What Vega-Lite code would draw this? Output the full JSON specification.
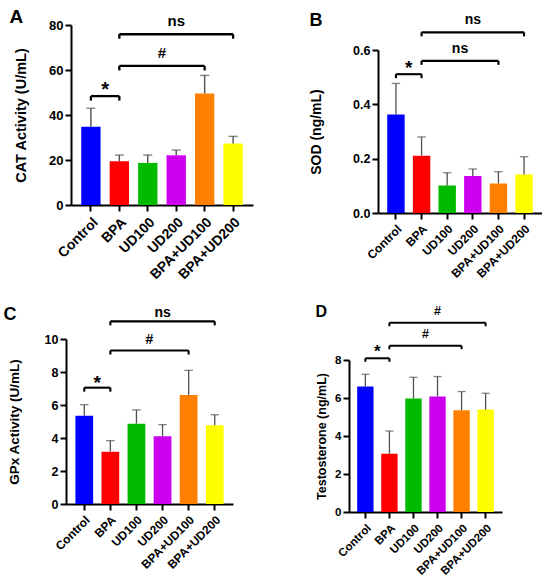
{
  "$schema": "https://vega.github.io/schema/vega-lite/v6.json",
  "padding": 0,
  "background": "white",
  "datasets": {
    "bars": [
      {"panel": "A", "group": "Control", "mean": 34.8, "upper": 43.0},
      {"panel": "A", "group": "BPA", "mean": 19.4, "upper": 22.2},
      {"panel": "A", "group": "UD100", "mean": 18.7, "upper": 22.2},
      {"panel": "A", "group": "UD200", "mean": 22.1, "upper": 24.4},
      {"panel": "A", "group": "BPA+UD100", "mean": 49.6, "upper": 57.6},
      {"panel": "A", "group": "BPA+UD200", "mean": 27.3, "upper": 30.5},
      {"panel": "B", "group": "Control", "mean": 0.363, "upper": 0.477},
      {"panel": "B", "group": "BPA", "mean": 0.211, "upper": 0.280},
      {"panel": "B", "group": "UD100", "mean": 0.101, "upper": 0.148},
      {"panel": "B", "group": "UD200", "mean": 0.136, "upper": 0.162},
      {"panel": "B", "group": "BPA+UD100", "mean": 0.109, "upper": 0.152},
      {"panel": "B", "group": "BPA+UD200", "mean": 0.142, "upper": 0.207},
      {"panel": "C", "group": "Control", "mean": 5.35, "upper": 6.02},
      {"panel": "C", "group": "BPA", "mean": 3.17, "upper": 3.84},
      {"panel": "C", "group": "UD100", "mean": 4.87, "upper": 5.70},
      {"panel": "C", "group": "UD200", "mean": 4.10, "upper": 4.81},
      {"panel": "C", "group": "BPA+UD100", "mean": 6.61, "upper": 8.10},
      {"panel": "C", "group": "BPA+UD200", "mean": 4.77, "upper": 5.41},
      {"panel": "D", "group": "Control", "mean": 6.60, "upper": 7.25},
      {"panel": "D", "group": "BPA", "mean": 3.06, "upper": 4.26},
      {"panel": "D", "group": "UD100", "mean": 5.97, "upper": 7.09},
      {"panel": "D", "group": "UD200", "mean": 6.08, "upper": 7.13},
      {"panel": "D", "group": "BPA+UD100", "mean": 5.36, "upper": 6.34},
      {"panel": "D", "group": "BPA+UD200", "mean": 5.39, "upper": 6.25}
    ],
    "brackets": [
      {"panel": "A", "from": "Control", "to": "BPA", "y": 48.4, "label": "*"},
      {"panel": "A", "from": "BPA", "to": "BPA+UD100", "y": 61.8, "label": "#"},
      {"panel": "A", "from": "BPA", "to": "BPA+UD200", "y": 75.9, "label": "ns"},
      {"panel": "B", "from": "Control", "to": "BPA", "y": 0.511, "label": "*"},
      {"panel": "B", "from": "BPA", "to": "BPA+UD100", "y": 0.560, "label": "ns"},
      {"panel": "B", "from": "BPA", "to": "BPA+UD200", "y": 0.665, "label": "ns"},
      {"panel": "C", "from": "Control", "to": "BPA", "y": 7.05, "label": "*"},
      {"panel": "C", "from": "BPA", "to": "BPA+UD100", "y": 9.3, "label": "#"},
      {"panel": "C", "from": "BPA", "to": "BPA+UD200", "y": 11.07, "label": "ns"},
      {"panel": "D", "from": "Control", "to": "BPA", "y": 8.09, "label": "*"},
      {"panel": "D", "from": "BPA", "to": "BPA+UD100", "y": 8.75, "label": "#"},
      {"panel": "D", "from": "BPA", "to": "BPA+UD200", "y": 9.96, "label": "#"}
    ],
    "none": []
  },
  "vconcat": [
    {
      "hconcat": [
        {"vconcat": [
          {"width": 1, "height": 1, "data": {"name": "none"}, "mark": "point"},
          {"hconcat": [
            {"width": 1, "height": 1, "data": {"name": "none"}, "mark": "point"},
            {
              "width": 182, "height": 180,
              "title": {"text": "A", "anchor": "start", "frame": "bounds", "fontSize": 19, "offset": -13, "dx": -4},
              "layer": [
                {"data": {"name": "bars"}, "transform": [{"filter": "datum.panel == 'A'"}],
                 "mark": {"type": "bar", "width": {"band": 0.68}},
                 "encoding": {
                   "x": {"field": "group", "type": "nominal", "scale": {"domain": ["Control","BPA","UD100","UD200","BPA+UD100","BPA+UD200"], "paddingInner": 0, "paddingOuter": 0.2}, "axis": {"title": null, "labelFontSize": 14}},
                   "y": {"field": "mean", "type": "quantitative", "scale": {"domain": [0, 80], "nice": false}, "axis": {"title": "CAT Activity (U/mL)", "values": [0, 20, 40, 60, 80], "tickCount": 12, "format": "d", "labelFontSize": 13, "titleFontSize": 14.5, "titlePadding": 20}},
                   "color": {"field": "group", "type": "nominal", "scale": {"domain": ["Control","BPA","UD100","UD200","BPA+UD100","BPA+UD200"], "range": ["#0000FF","#FF0000","#00BB00","#CC00EE","#FF8000","#FFFF00"]}, "legend": null}
                 }},
                {"data": {"name": "bars"}, "transform": [{"filter": "datum.panel == 'A'"}],
                 "mark": {"type": "rule", "color": "#505050", "strokeWidth": 1.4},
                 "encoding": {"x": {"field": "group", "type": "nominal"}, "y": {"field": "mean", "type": "quantitative"}, "y2": {"field": "upper"}}},
                {"data": {"name": "bars"}, "transform": [{"filter": "datum.panel == 'A'"}],
                 "mark": {"type": "tick", "color": "#505050", "size": 9, "thickness": 1.4},
                 "encoding": {"x": {"field": "group", "type": "nominal"}, "y": {"field": "upper", "type": "quantitative"}}},
                {"data": {"name": "brackets"}, "transform": [{"filter": "datum.panel == 'A'"}],
                 "mark": {"type": "rule", "color": "black", "strokeWidth": 2.3},
                 "encoding": {"x": {"field": "from", "type": "nominal"}, "x2": {"field": "to"}, "y": {"field": "y", "type": "quantitative"}}},
                {"data": {"name": "brackets"}, "transform": [{"filter": "datum.panel == 'A'"}, {"fold": ["from", "to"], "as": ["end", "grp"]}],
                 "mark": {"type": "rule", "color": "black", "strokeWidth": 2.3, "y2Offset": 4.5},
                 "encoding": {"x": {"field": "grp", "type": "nominal"}, "y": {"field": "y", "type": "quantitative"}, "y2": {"field": "y"}}},
                {"data": {"name": "brackets"}, "transform": [{"filter": "datum.panel == 'A' && datum.label == '*'"}, {"calculate": "['Control','BPA','UD100','UD200','BPA+UD100','BPA+UD200'][(indexof(['Control','BPA','UD100','UD200','BPA+UD100','BPA+UD200'], datum.from) + indexof(['Control','BPA','UD100','UD200','BPA+UD100','BPA+UD200'], datum.to) + 1) / 2]", "as": "mid"}],
                 "mark": {"type": "text", "fontSize": 20, "baseline": "middle", "dy": -6},
                 "encoding": {"x": {"field": "mid", "type": "nominal", "bandPosition": 0}, "y": {"field": "y", "type": "quantitative"}, "text": {"field": "label"}}},
                {"data": {"name": "brackets"}, "transform": [{"filter": "datum.panel == 'A' && datum.label != '*'"}, {"calculate": "indexof(['Control','BPA','UD100','UD200','BPA+UD100','BPA+UD200'], datum.from) + indexof(['Control','BPA','UD100','UD200','BPA+UD100','BPA+UD200'], datum.to)", "as": "s"}, {"filter": "datum.s % 2 == 1"}, {"calculate": "['Control','BPA','UD100','UD200','BPA+UD100','BPA+UD200'][(datum.s + 1) / 2]", "as": "mid"}],
                 "mark": {"type": "text", "fontSize": 15, "baseline": "middle", "dy": -13},
                 "encoding": {"x": {"field": "mid", "type": "nominal", "bandPosition": 0}, "y": {"field": "y", "type": "quantitative"}, "text": {"field": "label"}}},
                {"data": {"name": "brackets"}, "transform": [{"filter": "datum.panel == 'A' && datum.label != '*'"}, {"calculate": "indexof(['Control','BPA','UD100','UD200','BPA+UD100','BPA+UD200'], datum.from) + indexof(['Control','BPA','UD100','UD200','BPA+UD100','BPA+UD200'], datum.to)", "as": "s"}, {"filter": "datum.s % 2 == 0"}, {"calculate": "['Control','BPA','UD100','UD200','BPA+UD100','BPA+UD200'][datum.s / 2]", "as": "mid"}],
                 "mark": {"type": "text", "fontSize": 15, "baseline": "middle", "dy": -13},
                 "encoding": {"x": {"field": "mid", "type": "nominal", "bandPosition": 0.5}, "y": {"field": "y", "type": "quantitative"}, "text": {"field": "label"}}}
              ]
            }
          ], "spacing": 8}
        ], "spacing": 7},
        {"vconcat": [
          {"width": 1, "height": 1, "data": {"name": "none"}, "mark": "point"},
          {"hconcat": [
            {"width": 1, "height": 1, "data": {"name": "none"}, "mark": "point"},
            {
              "width": 164, "height": 163,
              "title": {"text": "B", "anchor": "start", "frame": "bounds", "fontSize": 18, "offset": -17},
              "layer": [
                {"data": {"name": "bars"}, "transform": [{"filter": "datum.panel == 'B'"}],
                 "mark": {"type": "bar", "width": {"band": 0.68}},
                 "encoding": {
                   "x": {"field": "group", "type": "nominal", "scale": {"domain": ["Control","BPA","UD100","UD200","BPA+UD100","BPA+UD200"], "paddingInner": 0, "paddingOuter": 0.2}, "axis": {"title": null, "labelFontSize": 12}},
                   "y": {"field": "mean", "type": "quantitative", "scale": {"domain": [0, 0.6], "nice": false}, "axis": {"title": "SOD (ng/mL)", "values": [0, 0.2, 0.4, 0.6], "tickCount": 12, "format": ".1f", "labelFontSize": 12.5, "titleFontSize": 14, "titlePadding": 29}},
                   "color": {"field": "group", "type": "nominal", "scale": {"domain": ["Control","BPA","UD100","UD200","BPA+UD100","BPA+UD200"], "range": ["#0000FF","#FF0000","#00BB00","#CC00EE","#FF8000","#FFFF00"]}, "legend": null}
                 }},
                {"data": {"name": "bars"}, "transform": [{"filter": "datum.panel == 'B'"}],
                 "mark": {"type": "rule", "color": "#505050", "strokeWidth": 1.3},
                 "encoding": {"x": {"field": "group", "type": "nominal"}, "y": {"field": "mean", "type": "quantitative"}, "y2": {"field": "upper"}}},
                {"data": {"name": "bars"}, "transform": [{"filter": "datum.panel == 'B'"}],
                 "mark": {"type": "tick", "color": "#505050", "size": 8.5, "thickness": 1.3},
                 "encoding": {"x": {"field": "group", "type": "nominal"}, "y": {"field": "upper", "type": "quantitative"}}},
                {"data": {"name": "brackets"}, "transform": [{"filter": "datum.panel == 'B'"}],
                 "mark": {"type": "rule", "color": "black", "strokeWidth": 2.1},
                 "encoding": {"x": {"field": "from", "type": "nominal"}, "x2": {"field": "to"}, "y": {"field": "y", "type": "quantitative"}}},
                {"data": {"name": "brackets"}, "transform": [{"filter": "datum.panel == 'B'"}, {"fold": ["from", "to"], "as": ["end", "grp"]}],
                 "mark": {"type": "rule", "color": "black", "strokeWidth": 2.1, "y2Offset": 4},
                 "encoding": {"x": {"field": "grp", "type": "nominal"}, "y": {"field": "y", "type": "quantitative"}, "y2": {"field": "y"}}},
                {"data": {"name": "brackets"}, "transform": [{"filter": "datum.panel == 'B' && datum.label == '*'"}, {"calculate": "['Control','BPA','UD100','UD200','BPA+UD100','BPA+UD200'][(indexof(['Control','BPA','UD100','UD200','BPA+UD100','BPA+UD200'], datum.from) + indexof(['Control','BPA','UD100','UD200','BPA+UD100','BPA+UD200'], datum.to) + 1) / 2]", "as": "mid"}],
                 "mark": {"type": "text", "fontSize": 19, "baseline": "middle", "dy": -6},
                 "encoding": {"x": {"field": "mid", "type": "nominal", "bandPosition": 0}, "y": {"field": "y", "type": "quantitative"}, "text": {"field": "label"}}},
                {"data": {"name": "brackets"}, "transform": [{"filter": "datum.panel == 'B' && datum.label != '*'"}, {"calculate": "indexof(['Control','BPA','UD100','UD200','BPA+UD100','BPA+UD200'], datum.from) + indexof(['Control','BPA','UD100','UD200','BPA+UD100','BPA+UD200'], datum.to)", "as": "s"}, {"filter": "datum.s % 2 == 1"}, {"calculate": "['Control','BPA','UD100','UD200','BPA+UD100','BPA+UD200'][(datum.s + 1) / 2]", "as": "mid"}],
                 "mark": {"type": "text", "fontSize": 14, "baseline": "middle", "dy": -12},
                 "encoding": {"x": {"field": "mid", "type": "nominal", "bandPosition": 0}, "y": {"field": "y", "type": "quantitative"}, "text": {"field": "label"}}},
                {"data": {"name": "brackets"}, "transform": [{"filter": "datum.panel == 'B' && datum.label != '*'"}, {"calculate": "indexof(['Control','BPA','UD100','UD200','BPA+UD100','BPA+UD200'], datum.from) + indexof(['Control','BPA','UD100','UD200','BPA+UD100','BPA+UD200'], datum.to)", "as": "s"}, {"filter": "datum.s % 2 == 0"}, {"calculate": "['Control','BPA','UD100','UD200','BPA+UD100','BPA+UD200'][datum.s / 2]", "as": "mid"}],
                 "mark": {"type": "text", "fontSize": 14, "baseline": "middle", "dy": -12},
                 "encoding": {"x": {"field": "mid", "type": "nominal", "bandPosition": 0.5}, "y": {"field": "y", "type": "quantitative"}, "text": {"field": "label"}}}
              ]
            }
          ], "spacing": 55}
        ], "spacing": 11}
      ],
      "spacing": 0
    },
    {
      "hconcat": [
        {"vconcat": [
          {"width": 1, "height": 1, "data": {"name": "none"}, "mark": "point"},
          {"hconcat": [
            {"width": 1, "height": 1, "data": {"name": "none"}, "mark": "point"},
            {
              "width": 167, "height": 165,
              "title": {"text": "C", "anchor": "start", "frame": "bounds", "fontSize": 18, "offset": -18, "dx": -4},
              "layer": [
                {"data": {"name": "bars"}, "transform": [{"filter": "datum.panel == 'C'"}],
                 "mark": {"type": "bar", "width": {"band": 0.68}},
                 "encoding": {
                   "x": {"field": "group", "type": "nominal", "scale": {"domain": ["Control","BPA","UD100","UD200","BPA+UD100","BPA+UD200"], "paddingInner": 0, "paddingOuter": 0.2}, "axis": {"title": null, "labelFontSize": 12}},
                   "y": {"field": "mean", "type": "quantitative", "scale": {"domain": [0, 10], "nice": false}, "axis": {"title": "GPx Activity (U/mL)", "values": [0, 2, 4, 6, 8, 10], "tickCount": 12, "format": "d", "labelFontSize": 12.5, "titleFontSize": 13.5, "titlePadding": 22.5}},
                   "color": {"field": "group", "type": "nominal", "scale": {"domain": ["Control","BPA","UD100","UD200","BPA+UD100","BPA+UD200"], "range": ["#0000FF","#FF0000","#00BB00","#CC00EE","#FF8000","#FFFF00"]}, "legend": null}
                 }},
                {"data": {"name": "bars"}, "transform": [{"filter": "datum.panel == 'C'"}],
                 "mark": {"type": "rule", "color": "#505050", "strokeWidth": 1.3},
                 "encoding": {"x": {"field": "group", "type": "nominal"}, "y": {"field": "mean", "type": "quantitative"}, "y2": {"field": "upper"}}},
                {"data": {"name": "bars"}, "transform": [{"filter": "datum.panel == 'C'"}],
                 "mark": {"type": "tick", "color": "#505050", "size": 8.5, "thickness": 1.3},
                 "encoding": {"x": {"field": "group", "type": "nominal"}, "y": {"field": "upper", "type": "quantitative"}}},
                {"data": {"name": "brackets"}, "transform": [{"filter": "datum.panel == 'C'"}],
                 "mark": {"type": "rule", "color": "black", "strokeWidth": 2.1},
                 "encoding": {"x": {"field": "from", "type": "nominal"}, "x2": {"field": "to"}, "y": {"field": "y", "type": "quantitative"}}},
                {"data": {"name": "brackets"}, "transform": [{"filter": "datum.panel == 'C'"}, {"fold": ["from", "to"], "as": ["end", "grp"]}],
                 "mark": {"type": "rule", "color": "black", "strokeWidth": 2.1, "y2Offset": 4},
                 "encoding": {"x": {"field": "grp", "type": "nominal"}, "y": {"field": "y", "type": "quantitative"}, "y2": {"field": "y"}}},
                {"data": {"name": "brackets"}, "transform": [{"filter": "datum.panel == 'C' && datum.label == '*'"}, {"calculate": "['Control','BPA','UD100','UD200','BPA+UD100','BPA+UD200'][(indexof(['Control','BPA','UD100','UD200','BPA+UD100','BPA+UD200'], datum.from) + indexof(['Control','BPA','UD100','UD200','BPA+UD100','BPA+UD200'], datum.to) + 1) / 2]", "as": "mid"}],
                 "mark": {"type": "text", "fontSize": 19, "baseline": "middle", "dy": -5},
                 "encoding": {"x": {"field": "mid", "type": "nominal", "bandPosition": 0}, "y": {"field": "y", "type": "quantitative"}, "text": {"field": "label"}}},
                {"data": {"name": "brackets"}, "transform": [{"filter": "datum.panel == 'C' && datum.label != '*'"}, {"calculate": "indexof(['Control','BPA','UD100','UD200','BPA+UD100','BPA+UD200'], datum.from) + indexof(['Control','BPA','UD100','UD200','BPA+UD100','BPA+UD200'], datum.to)", "as": "s"}, {"filter": "datum.s % 2 == 1"}, {"calculate": "['Control','BPA','UD100','UD200','BPA+UD100','BPA+UD200'][(datum.s + 1) / 2]", "as": "mid"}],
                 "mark": {"type": "text", "fontSize": 14, "baseline": "middle", "dy": -11},
                 "encoding": {"x": {"field": "mid", "type": "nominal", "bandPosition": 0}, "y": {"field": "y", "type": "quantitative"}, "text": {"field": "label"}}},
                {"data": {"name": "brackets"}, "transform": [{"filter": "datum.panel == 'C' && datum.label != '*'"}, {"calculate": "indexof(['Control','BPA','UD100','UD200','BPA+UD100','BPA+UD200'], datum.from) + indexof(['Control','BPA','UD100','UD200','BPA+UD100','BPA+UD200'], datum.to)", "as": "s"}, {"filter": "datum.s % 2 == 0"}, {"calculate": "['Control','BPA','UD100','UD200','BPA+UD100','BPA+UD200'][datum.s / 2]", "as": "mid"}],
                 "mark": {"type": "text", "fontSize": 14, "baseline": "middle", "dy": -8},
                 "encoding": {"x": {"field": "mid", "type": "nominal", "bandPosition": 0.5}, "y": {"field": "y", "type": "quantitative"}, "text": {"field": "label"}}}
              ]
            }
          ], "spacing": 2}
        ], "spacing": 23},
        {"vconcat": [
          {"width": 1, "height": 1, "data": {"name": "none"}, "mark": "point"},
          {"hconcat": [
            {"width": 1, "height": 1, "data": {"name": "none"}, "mark": "point"},
            {
              "width": 153, "height": 152,
              "title": {"text": "D", "anchor": "start", "frame": "bounds", "fontSize": 16, "offset": -15},
              "layer": [
                {"data": {"name": "bars"}, "transform": [{"filter": "datum.panel == 'D'"}],
                 "mark": {"type": "bar", "width": {"band": 0.68}},
                 "encoding": {
                   "x": {"field": "group", "type": "nominal", "scale": {"domain": ["Control","BPA","UD100","UD200","BPA+UD100","BPA+UD200"], "paddingInner": 0, "paddingOuter": 0.18}, "axis": {"title": null, "labelFontSize": 11.5}},
                   "y": {"field": "mean", "type": "quantitative", "scale": {"domain": [0, 8], "nice": false}, "axis": {"title": "Testosterone (ng/mL)", "values": [0, 2, 4, 6, 8], "tickCount": 12, "format": "d", "labelFontSize": 11.5, "titleFontSize": 12.5, "titlePadding": 6}},
                   "color": {"field": "group", "type": "nominal", "scale": {"domain": ["Control","BPA","UD100","UD200","BPA+UD100","BPA+UD200"], "range": ["#0000FF","#FF0000","#00BB00","#CC00EE","#FF8000","#FFFF00"]}, "legend": null}
                 }},
                {"data": {"name": "bars"}, "transform": [{"filter": "datum.panel == 'D'"}],
                 "mark": {"type": "rule", "color": "#505050", "strokeWidth": 1.3},
                 "encoding": {"x": {"field": "group", "type": "nominal"}, "y": {"field": "mean", "type": "quantitative"}, "y2": {"field": "upper"}}},
                {"data": {"name": "bars"}, "transform": [{"filter": "datum.panel == 'D'"}],
                 "mark": {"type": "tick", "color": "#505050", "size": 8, "thickness": 1.3},
                 "encoding": {"x": {"field": "group", "type": "nominal"}, "y": {"field": "upper", "type": "quantitative"}}},
                {"data": {"name": "brackets"}, "transform": [{"filter": "datum.panel == 'D'"}],
                 "mark": {"type": "rule", "color": "black", "strokeWidth": 2},
                 "encoding": {"x": {"field": "from", "type": "nominal"}, "x2": {"field": "to"}, "y": {"field": "y", "type": "quantitative"}}},
                {"data": {"name": "brackets"}, "transform": [{"filter": "datum.panel == 'D'"}, {"fold": ["from", "to"], "as": ["end", "grp"]}],
                 "mark": {"type": "rule", "color": "black", "strokeWidth": 2, "y2Offset": 3.5},
                 "encoding": {"x": {"field": "grp", "type": "nominal"}, "y": {"field": "y", "type": "quantitative"}, "y2": {"field": "y"}}},
                {"data": {"name": "brackets"}, "transform": [{"filter": "datum.panel == 'D' && datum.label == '*'"}, {"calculate": "['Control','BPA','UD100','UD200','BPA+UD100','BPA+UD200'][(indexof(['Control','BPA','UD100','UD200','BPA+UD100','BPA+UD200'], datum.from) + indexof(['Control','BPA','UD100','UD200','BPA+UD100','BPA+UD200'], datum.to) + 1) / 2]", "as": "mid"}],
                 "mark": {"type": "text", "fontSize": 17, "baseline": "middle", "dy": -6},
                 "encoding": {"x": {"field": "mid", "type": "nominal", "bandPosition": 0}, "y": {"field": "y", "type": "quantitative"}, "text": {"field": "label"}}},
                {"data": {"name": "brackets"}, "transform": [{"filter": "datum.panel == 'D' && datum.label != '*'"}, {"calculate": "indexof(['Control','BPA','UD100','UD200','BPA+UD100','BPA+UD200'], datum.from) + indexof(['Control','BPA','UD100','UD200','BPA+UD100','BPA+UD200'], datum.to)", "as": "s"}, {"filter": "datum.s % 2 == 1"}, {"calculate": "['Control','BPA','UD100','UD200','BPA+UD100','BPA+UD200'][(datum.s + 1) / 2]", "as": "mid"}],
                 "mark": {"type": "text", "fontSize": 12.5, "baseline": "middle", "dy": -12},
                 "encoding": {"x": {"field": "mid", "type": "nominal", "bandPosition": 0}, "y": {"field": "y", "type": "quantitative"}, "text": {"field": "label"}}},
                {"data": {"name": "brackets"}, "transform": [{"filter": "datum.panel == 'D' && datum.label != '*'"}, {"calculate": "indexof(['Control','BPA','UD100','UD200','BPA+UD100','BPA+UD200'], datum.from) + indexof(['Control','BPA','UD100','UD200','BPA+UD100','BPA+UD200'], datum.to)", "as": "s"}, {"filter": "datum.s % 2 == 0"}, {"calculate": "['Control','BPA','UD100','UD200','BPA+UD100','BPA+UD200'][datum.s / 2]", "as": "mid"}],
                 "mark": {"type": "text", "fontSize": 12.5, "baseline": "middle", "dy": -12},
                 "encoding": {"x": {"field": "mid", "type": "nominal", "bandPosition": 0.5}, "y": {"field": "y", "type": "quantitative"}, "text": {"field": "label"}}}
              ]
            }
          ], "spacing": 81}
        ], "spacing": 20}
      ],
      "spacing": 0
    }
  ],
  "spacing": 0,
  "config": {
    "font": "Liberation Sans",
    "view": {"stroke": null},
    "axis": {"labelFont": "Liberation Sans", "labelFontWeight": "bold", "labelColor": "black", "titleFont": "Liberation Sans", "titleFontWeight": "bold", "titleColor": "black", "domainColor": "black", "domainWidth": 2, "tickColor": "black", "tickWidth": 2, "tickSize": 6, "grid": false, "labelPadding": 2, "labelOverlap": false},
    "axisX": {"labelAngle": -45, "labelPadding": 4},
    "title": {"font": "Liberation Sans", "fontWeight": "bold", "color": "black"},
    "text": {"font": "Liberation Sans", "fontWeight": "bold", "color": "black"}
  }
}
